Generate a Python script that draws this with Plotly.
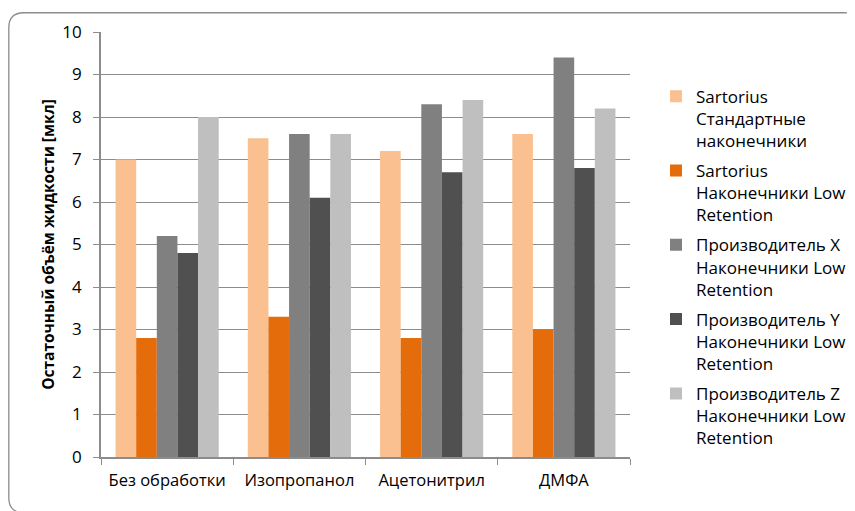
import plotly.graph_objects as go

categories = ["Без обработки", "Изопропанол", "Ацетонитрил", "ДМФА"]
series_names = [
    "Sartorius<br>Стандартные<br>наконечники",
    "Sartorius<br>Наконечники Low<br>Retention",
    "Производитель X<br>Наконечники Low<br>Retention",
    "Производитель Y<br>Наконечники Low<br>Retention",
    "Производитель Z<br>Наконечники Low<br>Retention",
]
sartorius_std = [7.0, 7.5, 7.2, 7.6]
sartorius_lr = [2.8, 3.3, 2.8, 3.0]
maker_x = [5.2, 7.6, 8.3, 9.4]
maker_y = [4.8, 6.1, 6.7, 6.8]
maker_z = [8.0, 7.6, 8.4, 8.2]
y_ticks = list(range(0, 11))

series_values = [sartorius_std, sartorius_lr, maker_x, maker_y, maker_z]
colors = ["#FAC090", "#E46C0A", "#808080", "#505050", "#BFBFBF"]

W, H = 855, 511
OFF = 8  # page body margin offset
L, R, T, B = 101 - OFF, 630 - OFF, 29 - OFF, 457 - OFF


def px(x):
    return (x - OFF - L) / (R - L)


def py(y):
    return (B - (y - OFF)) / (B - T)


fig = go.Figure()
for i, (name, vals, col) in enumerate(zip(series_names, series_values, colors)):
    fig.add_trace(go.Bar(x=categories, y=vals, name=name, legendgroup=f"g{i}",
                         marker=dict(color=col, line=dict(width=0))))

# rounded frame (reference pixel coords)
x0, x1, y0, y1, r = 8.8, 860, 9.6, 513, 15
path = (f"M {px(x0+r)},{py(y0)} L {px(x1-r)},{py(y0)} "
        f"Q {px(x1)},{py(y0)} {px(x1)},{py(y0+r)} "
        f"L {px(x1)},{py(y1-r)} Q {px(x1)},{py(y1)} {px(x1-r)},{py(y1)} "
        f"L {px(x0+r)},{py(y1)} Q {px(x0)},{py(y1)} {px(x0)},{py(y1-r)} "
        f"L {px(x0)},{py(y0+r)} Q {px(x0)},{py(y0)} {px(x0+r)},{py(y0)} Z")

fig.update_layout(
    width=W, height=H,
    margin=dict(l=L, r=W - R, t=T, b=H - B, pad=0),
    paper_bgcolor="white", plot_bgcolor="white",
    barmode="group", bargap=0.22, bargroupgap=0,
    font=dict(family="Open Sans", size=16, color="#000000"),
    showlegend=True,
    legend=dict(x=px(656), xanchor="left", y=py(76), yanchor="top",
                valign="top", tracegroupgap=5,
                font=dict(family="Open Sans", size=17, color="#000000"),
                itemwidth=30, traceorder="grouped"),
    shapes=[dict(type="path", path=path, xref="paper", yref="paper",
                 line=dict(color="#8C8C8C", width=1.3), layer="below")],
    yaxis=dict(range=[0, 10], tickvals=y_ticks, showgrid=True,
               gridcolor="#8C8C8C", gridwidth=1, showline=True,
               linecolor="#8C8C8C", linewidth=1.8, ticks="outside",
               ticklen=6, tickcolor="#8C8C8C", zeroline=False,
               tickfont=dict(size=17), ticklabelstandoff=8,
               title=dict(text="<b>Остаточный объём жидкости [мкл]</b>",
                          font=dict(size=15.5), standoff=4)),
    xaxis=dict(showline=True, linecolor="#8C8C8C", linewidth=1.8,
               ticks="outside", tickson="boundaries", ticklen=6,
               tickcolor="#8C8C8C", tickfont=dict(size=16.5),
               ticklabelstandoff=7),
)

fig.write_html("out.html")
